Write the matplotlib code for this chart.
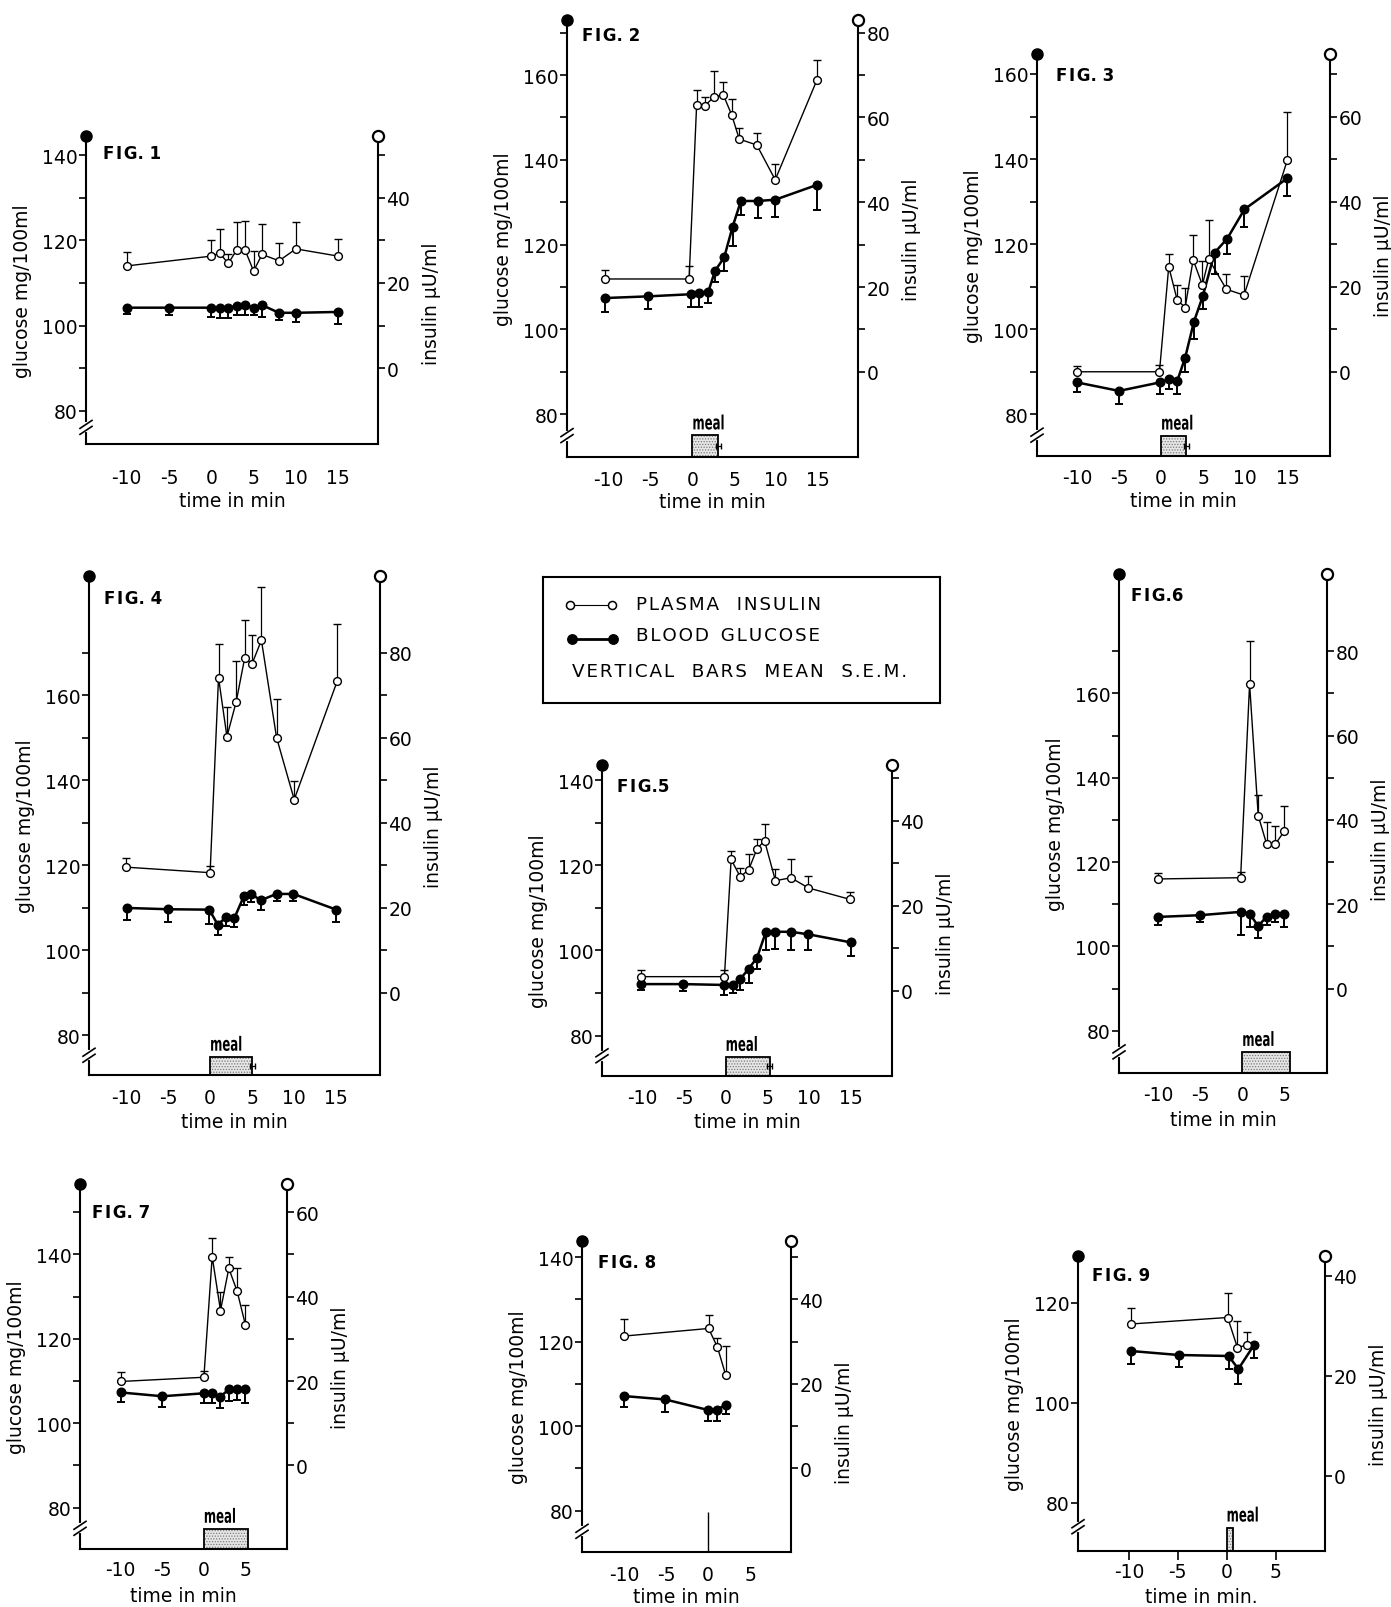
import numpy as np
import matplotlib
matplotlib.use("Agg")
import matplotlib.pyplot as plt
from matplotlib.lines import Line2D
from matplotlib.patches import Rectangle, PathPatch
from matplotlib.textpath import TextPath
from matplotlib.font_manager import FontProperties
from matplotlib.transforms import Affine2D, ScaledTranslation

plt.rcParams['font.family'] = ['DejaVu Sans']
plt.rcParams['axes.unicode_minus'] = False
plt.rcParams['hatch.linewidth'] = 0.6

# ---- data: time in min, glucose mg/100ml, insulin uU/ml, one sided S.E.M. ----
fig1_t_ins = [-10, 0, 1, 2, 3, 4, 5, 6, 8, 10, 15]
fig1_ins = [24.0, 26.3, 27.0, 24.6, 27.7, 27.7, 22.8, 26.7, 25.2, 28.0, 26.3]
fig1_ins_sem = [3.3, 3.9, 5.6, 2.1, 6.7, 6.9, 4.7, 7.1, 4.1, 6.4, 4.1]
fig1_t_glu = [-10, -5, 0, 1, 2, 3, 4, 5, 6, 8, 10, 15]
fig1_glu = [104.2, 104.2, 104.2, 104.2, 104.2, 104.6, 104.8, 104.2, 104.8, 103.0, 103.0, 103.2]
fig1_glu_sem = [1.4, 1.8, 2.3, 2.5, 2.5, 2.2, 2.3, 1.8, 2.7, 1.8, 2.2, 2.9]

fig2_t_ins = [-10.5, -0.4, 0.5, 1.5, 2.6, 3.7, 4.7, 5.6, 7.7, 9.9, 14.9]
fig2_ins = [21.9, 21.9, 62.9, 62.8, 64.9, 65.3, 60.6, 54.9, 53.5, 45.3, 68.9]
fig2_ins_sem = [2.2, 3.0, 3.5, 2.0, 6.1, 3.1, 3.8, 2.6, 2.8, 3.7, 4.7]
fig2_t_glu = [-10.5, -5.3, -0.2, 0.8, 1.9, 2.7, 3.8, 4.8, 5.8, 7.8, 9.9, 14.9]
fig2_glu = [107.4, 107.8, 108.3, 108.6, 108.9, 113.8, 117.0, 124.2, 130.3, 130.3, 130.6, 134.1]
fig2_glu_sem = [3.3, 3.1, 3.1, 3.2, 2.7, 2.5, 3.1, 4.6, 3.3, 4.1, 4.1, 5.9]

fig3_t_ins = [-10, -0.2, 0.9, 1.9, 2.85, 3.8, 4.9, 5.65, 7.75, 9.85, 15]
fig3_ins = [0.0, 0.0, 24.7, 16.9, 15.1, 26.3, 20.4, 26.5, 19.4, 18.0, 49.8]
fig3_ins_sem = [1.3, 1.6, 2.9, 3.5, 4.7, 5.8, 5.7, 9.1, 3.7, 4.4, 11.3]
fig3_t_glu = [-10, -5, -0.15, 0.9, 1.9, 2.85, 3.9, 4.95, 6.35, 7.85, 9.9, 15]
fig3_glu = [87.5, 85.5, 87.5, 88.2, 87.8, 93.3, 101.8, 107.8, 118.0, 121.3, 128.2, 135.5]
fig3_glu_sem = [2.2, 3.0, 2.8, 2.3, 3.1, 3.3, 4.2, 3.1, 5.1, 3.7, 4.1, 4.1]

fig4_t_ins = [-10, 0, 1, 2, 3.1, 4.1, 5, 6.1, 7.9, 10, 15.1]
fig4_ins = [29.6, 28.3, 74.2, 60.3, 68.5, 78.7, 77.5, 83.0, 60.1, 45.5, 73.3]
fig4_ins_sem = [2.1, 1.5, 8.0, 7.0, 9.6, 9.0, 6.7, 12.5, 9.0, 4.3, 13.5]
fig4_t_glu = [-9.9, -4.95, -0.1, 0.9, 1.9, 2.9, 4.0, 4.9, 6.0, 7.9, 9.9, 15.0]
fig4_glu = [110.0, 109.7, 109.6, 106.1, 107.8, 107.7, 112.7, 113.3, 111.8, 113.3, 113.3, 109.6]
fig4_glu_sem = [2.8, 2.9, 3.3, 2.4, 2.1, 2.2, 2.0, 2.0, 2.2, 1.7, 1.7, 2.8]

fig5_t_ins = [-10.1, -0.15, 0.65, 1.75, 2.75, 3.75, 4.65, 5.95, 7.8, 9.9, 14.9]
fig5_ins = [3.35, 3.35, 30.9, 26.8, 28.5, 33.4, 35.3, 25.9, 26.6, 24.2, 21.5]
fig5_ins_sem = [1.45, 1.45, 2.1, 2.2, 3.6, 2.2, 3.9, 2.8, 4.3, 2.8, 1.7]
fig5_t_glu = [-10.1, -5.1, -0.15, 0.9, 1.75, 2.75, 3.75, 4.8, 5.95, 7.8, 9.9, 15.0]
fig5_glu = [92.1, 92.1, 91.9, 91.9, 93.3, 95.7, 98.3, 104.3, 104.4, 104.4, 103.8, 101.9]
fig5_glu_sem = [1.5, 1.7, 2.3, 2.0, 2.5, 3.4, 2.6, 4.3, 4.0, 4.4, 3.8, 3.2]

fig6_t_ins = [-10.1, -0.2, 0.87, 1.9, 2.9, 3.95, 5.0]
fig6_ins = [26.0, 26.3, 72.2, 41.0, 34.3, 34.3, 37.3]
fig6_ins_sem = [1.3, 1.3, 10.1, 5.0, 5.2, 4.3, 5.9]
fig6_t_glu = [-10.1, -5.1, -0.2, 0.87, 1.9, 2.9, 3.95, 5.0]
fig6_glu = [107.0, 107.4, 108.2, 107.8, 104.8, 107.1, 107.8, 107.7]
fig6_glu_sem = [1.8, 1.6, 5.4, 3.1, 2.7, 1.9, 2.0, 3.2]

fig7_t_ins = [-10, 0, 1, 2, 3, 4, 5]
fig7_ins = [19.9, 20.9, 49.5, 36.7, 46.7, 41.3, 33.3]
fig7_ins_sem = [2.3, 1.6, 4.3, 4.5, 2.6, 5.4, 4.7]
fig7_t_glu = [-10, -5, 0, 1, 1.9, 3.0, 4.0, 5.0]
fig7_glu = [107.3, 106.4, 107.1, 107.2, 106.2, 108.0, 108.1, 108.1]
fig7_glu_sem = [2.3, 2.6, 2.3, 2.4, 2.6, 2.8, 2.7, 3.4]

fig8_t_ins = [-10, 0.05, 1.1, 2.1]
fig8_ins = [31.3, 33.1, 28.7, 22.0]
fig8_ins_sem = [4.1, 3.2, 2.2, 6.9]
fig8_t_glu = [-10, -5.1, 0, 1.1, 2.1]
fig8_glu = [107.1, 106.3, 103.8, 103.9, 105.1]
fig8_glu_sem = [2.5, 3.0, 2.6, 2.6, 2.3]

fig9_t_ins = [-9.8, 0.1, 1.1, 2.1]
fig9_ins = [30.4, 31.7, 25.7, 26.2]
fig9_ins_sem = [3.3, 4.9, 5.3, 2.7]
fig9_t_glu = [-9.8, -4.9, 0.2, 1.2, 2.8]
fig9_glu = [110.3, 109.5, 109.3, 106.7, 111.5]
fig9_glu_sem = [2.6, 2.3, 2.6, 2.9, 2.5]

fig_titles = ["FIG. 1", "FIG. 2", "FIG. 3", "FIG. 4", "FIG.5", "FIG.6", "FIG. 7", "FIG. 8", "FIG. 9"]
x_labels = ["time in min"] * 8 + ["time in min."]
long_ticks = [-10, -5, 0, 5, 10, 15]
short_ticks = [-10, -5, 0, 5]
# meal duration (min) and its S.E.M.; 0 = only a mark at time 0
meal_len = [None, 3.1, 3.0, 5.0, 5.3, 5.7, 5.3, 0, 0.7]
meal_sem = [None, 0.3, 0.3, 0.3, 0.3, None, None, None, None]
meal_top = 75

# ---- layout (output pixels) ----
W, H = 1391, 1608
boxes = [(86, 378, 137, 445), (567, 858, 21, 458), (1037, 1330, 55, 457),
         (89, 380, 577, 1076), (602, 892, 766, 1077), (1119, 1327, 575, 1074),
         (80, 287, 1185, 1550), (582, 791, 1242, 1553), (1078, 1325, 1257, 1552)]
glu_lims = [(72.2, 144.5), (69.9, 173.0), (70.2, 164.7), (70.7, 188.1), (70.5, 143.6),
            (70.0, 188.3), (70.2, 156.7), (70.2, 143.8), (70.3, 129.3)]
t_lims = [(-14.8, 19.7), (-15.0, 19.8), (-14.75, 20.06), (-14.4, 20.2), (-14.8, 19.9),
          (-14.7, 10.1), (-14.9, 10.0), (-15.0, 9.85), (-15.2, 10.06)]
ins_zero = [90, 90, 90, 90, 90.5, 90, 90, 90, 85.3]   # glucose level of insulin 0
xtick_len = [0, 0, 0, 0, 0, 0, 0, 0, 9]
xtick_pad = [24, 13, 12, 13.5, 12.5, 12.5, 11, 13, 2]
xlab_px = [47, 35, 35, 37, 36, 37, 37, 35, 36]
ins_lab_y = [0.46, 0.5, 0.5, 0.5, 0.46, 0.47, 0.5, 0.42, 0.5]
title_off = [(17, 17), (15, 15), (19, 21), (15, 22), (15, 21), (12, 21), (12, 28), (16, 21), (14, 19)]

fig = plt.figure(figsize=(W / 100, H / 100), dpi=100)
FS = 13.5
meal_font = FontProperties(family="DejaVu Sans", weight="bold")


def spaced(s, sep="\u2009"):
    return sep.join(s)


def panel(i, t_ins, ins, ins_sem, t_glu, glu, glu_sem, xticks):
    l, r, top, bot = boxes[i]
    w, h = r - l, bot - top
    g0, g1 = glu_lims[i]
    z = ins_zero[i]
    ax = fig.add_axes([l / W, 1 - bot / H, w / W, h / H])
    ax.set_xlim(*t_lims[i])
    ax.set_ylim(g0, g1)
    ax.patch.set_alpha(0)
    ax.spines["top"].set_visible(False)
    ax.spines["right"].set_visible(False)
    ax.spines["left"].set_linewidth(1.5)
    ax.spines["bottom"].set_linewidth(1.5)
    ax.set_yticks(np.arange(80, min(g1, 165), 20))
    if i != 8:
        ax.set_yticks(np.arange(90, min(g1 - 2, 175), 20), minor=True)
    ax.tick_params(axis="y", which="both", direction="out", length=5, width=1.2,
                   pad=1, labelsize=FS)
    ax.set_xticks(xticks)
    ax.tick_params(axis="x", direction="out", length=xtick_len[i] * 0.72, width=1.2,
                   pad=xtick_pad[i] * 0.72, labelsize=FS)

    ax2 = ax.twinx()
    ax2.set_ylim(g0 - z, g1 - z)
    for s in ("top", "left", "bottom"):
        ax2.spines[s].set_visible(False)
    ax2.spines["right"].set_linewidth(1.5)
    ax2.set_yticks(np.arange(0, g1 - z + 0.5, 20))
    if i != 8:
        ax2.set_yticks(np.arange(10, min(g1 - z - 3, 75), 20), minor=True)
    ax2.tick_params(axis="y", which="both", direction="out", length=5, width=1.2,
                    pad=1, labelsize=FS)

    # blood glucose, S.E.M. drawn downwards
    tg, gv, gs = np.asarray(t_glu), np.asarray(glu), np.asarray(glu_sem)
    ax.vlines(tg, gv - gs, gv, colors="k", lw=1.4)
    ax.plot(tg, gv - gs, ls="none", marker="_", ms=6, mew=1.4, color="k")
    ax.plot(tg, gv, "-o", color="k", lw=1.8, ms=6.2)

    # plasma insulin, S.E.M. drawn upwards
    ti, iv, isd = np.asarray(t_ins), np.asarray(ins), np.asarray(ins_sem)
    ax2.vlines(ti, iv, iv + isd, colors="k", lw=0.9)
    ax2.plot(ti, iv + isd, ls="none", marker="_", ms=6, mew=1.0, color="k")
    ax2.plot(ti, iv, "-o", color="k", lw=1.0, ms=5.6, mfc="white", mew=1.0)

    # spine end symbols
    ax.plot([0], [1], "o", transform=ax.transAxes, clip_on=False, color="k", ms=8, zorder=6)
    ax2.plot([1], [1], "o", transform=ax2.transAxes, clip_on=False, mfc="white",
             mec="k", mew=1.6, ms=8, zorder=6)

    # meal
    m = meal_len[i]
    if m is not None and m > 0:
        ax.add_patch(Rectangle((0, g0), m, meal_top - g0, facecolor="#e6e6e6",
                               edgecolor="#7a7a7a", hatch="......", lw=0))
        ax.add_patch(Rectangle((0, g0), m, meal_top - g0, fill=False, edgecolor="k", lw=1.3))
        # narrow, tall bold lettering
        tp = TextPath((0, 0), "meal", size=17, prop=meal_font)
        tr = Affine2D().scale(0.69, 1.15).translate(0, 6) + \
            ScaledTranslation(0, meal_top, ax.transData)
        ax.add_patch(PathPatch(tp, transform=tr, facecolor="k", lw=0, clip_on=False))
        if meal_sem[i]:
            ax.errorbar([m], [(g0 + meal_top) / 2], xerr=[meal_sem[i]], color="k",
                        lw=0.9, capsize=2)
    elif m == 0:
        ax.vlines(0, g0, 79.7, colors="k", lw=1.0)

    # axis break on the glucose spine
    yb = bot - ((80 + g0) / 2 - g0) / (g1 - g0) * h
    fig.add_artist(Line2D([l / W, l / W], [1 - (yb + 3) / H, 1 - (yb - 3) / H],
                          color="white", lw=3))
    for dy in (-3, 3):
        fig.add_artist(Line2D([(l - 6) / W, (l + 6) / W],
                              [1 - (yb + dy + 4) / H, 1 - (yb + dy - 4) / H],
                              color="k", lw=1.2))

    ax.set_ylabel("glucose mg/100ml", fontsize=FS)
    ax.yaxis.set_label_coords(-54 / w, 0.5)
    ax2.set_ylabel("insulin µU/ml", fontsize=FS)
    ax2.yaxis.set_label_coords(1 + 44 / w, ins_lab_y[i])
    ax.set_xlabel(x_labels[i], fontsize=FS)
    ax.xaxis.set_label_coords(0.5, -xlab_px[i] / h)
    fx, fy = title_off[i]
    head, num = fig_titles[i].split(".")
    ax.annotate(spaced(head, "\u200a") + "." + num, xy=(0, 1), xycoords="axes fraction",
                xytext=(fx * 0.72, -fy * 0.72), textcoords="offset points",
                ha="left", va="center", fontsize=12, fontweight="bold")


panel(0, fig1_t_ins, fig1_ins, fig1_ins_sem, fig1_t_glu, fig1_glu, fig1_glu_sem, long_ticks)
panel(1, fig2_t_ins, fig2_ins, fig2_ins_sem, fig2_t_glu, fig2_glu, fig2_glu_sem, long_ticks)
panel(2, fig3_t_ins, fig3_ins, fig3_ins_sem, fig3_t_glu, fig3_glu, fig3_glu_sem, long_ticks)
panel(3, fig4_t_ins, fig4_ins, fig4_ins_sem, fig4_t_glu, fig4_glu, fig4_glu_sem, long_ticks)
panel(4, fig5_t_ins, fig5_ins, fig5_ins_sem, fig5_t_glu, fig5_glu, fig5_glu_sem, long_ticks)
panel(5, fig6_t_ins, fig6_ins, fig6_ins_sem, fig6_t_glu, fig6_glu, fig6_glu_sem, short_ticks)
panel(6, fig7_t_ins, fig7_ins, fig7_ins_sem, fig7_t_glu, fig7_glu, fig7_glu_sem, short_ticks)
panel(7, fig8_t_ins, fig8_ins, fig8_ins_sem, fig8_t_glu, fig8_glu, fig8_glu_sem, short_ticks)
panel(8, fig9_t_ins, fig9_ins, fig9_ins_sem, fig9_t_glu, fig9_glu, fig9_glu_sem, short_ticks)

# legend box
lg = fig.add_axes([543 / W, 1 - 704 / H, 397 / W, 126 / H])
lg.set_xlim(543, 940)
lg.set_ylim(704, 578)
lg.set_xticks([])
lg.set_yticks([])
for s in lg.spines.values():
    s.set_linewidth(1.5)
lg.plot([570, 612], [606, 606], "-o", color="k", lw=0.8, ms=5.8, mfc="white", mew=1.1)
lg.plot([572, 613], [640, 640], "-o", color="k", lw=2.0, ms=6.8)
HS = "\u200a"
lg.text(636, 605, spaced("PLASMA", HS) + "   " + spaced("INSULIN", HS),
        va="center", ha="left", fontsize=13.2)
lg.text(636, 636, spaced("BLOOD", HS) + "  " + spaced("GLUCOSE", HS),
        va="center", ha="left", fontsize=13.2)
lg.text(572, 672, "   ".join(spaced(w, HS) for w in ["VERTICAL", "BARS", "MEAN", "S.E.M."]),
        va="center", ha="left", fontsize=13.2)

fig.savefig("out.png", dpi=100)
